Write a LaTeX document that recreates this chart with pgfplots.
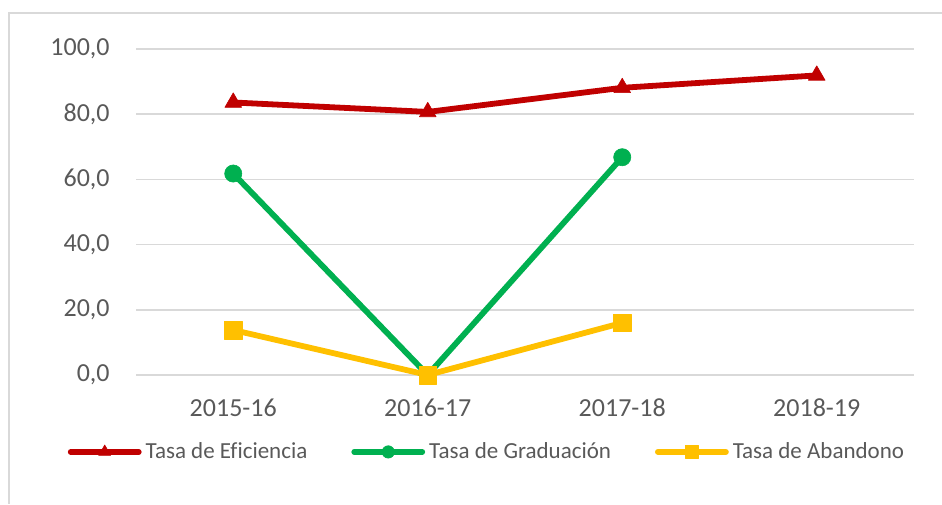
\documentclass[border=0pt]{standalone}
\usepackage{fontspec}
\setmainfont{Carlito}[Ligatures=NoCommon]
\usepackage{pgfplots}
\pgfplotsset{compat=1.18}
\definecolor{cred}{HTML}{C00000}
\definecolor{cgreen}{HTML}{00B050}
\definecolor{cyellow}{HTML}{FFC000}
\definecolor{cgrid}{HTML}{D9D9D9}
\definecolor{ctext}{HTML}{595959}
\begin{document}
\begin{tikzpicture}[x=0.5pt,y=0.5pt]
\useasboundingbox (0,0) rectangle (942,504);
\draw[cgrid, line width=0.8pt] (8,491) -- (942,491);
\draw[cgrid, line width=0.8pt] (9,491) -- (9,0);
\begin{axis}[
  at={(68pt,64.5pt)}, anchor=south west,
  scale only axis, width=389pt, height=163pt,
  xmin=-0.5, xmax=3.5, ymin=0, ymax=100,
  clip=false,
  axis line style={draw=none},
  ymajorgrids, grid style={cgrid, line width=0.8pt},
  major tick length=0pt,
  xtick={0,1,2,3},
  xticklabels={2015-16,2016-17,2017-18,2018-19},
  ytick={0,20,40,60,80,100},
  tick label style={font=\fontsize{13}{15}\selectfont, text=ctext},
  yticklabel style={inner sep=0pt, anchor=east, xshift=-13pt},
  xticklabel style={inner sep=0pt, anchor=center, yshift=-16.5pt},
  /pgf/number format/.cd, fixed, fixed zerofill, precision=1, use comma, assume math mode=true,
  /pgfplots/.cd,
  legend columns=3,
  legend style={at={(0.4524,-0.236)}, anchor=center, draw=none, fill=none,
    font=\fontsize{11.5}{14}\selectfont, text=ctext,
    /tikz/every even column/.append style={column sep=20pt},
    nodes={inner sep=2pt}},
  legend image code/.code={\draw[mark repeat=2,mark phase=2,#1, every mark/.append style={scale=0.72}] plot coordinates {(0pt,0pt) (17pt,0pt) (34pt,0pt)};},
  every axis plot/.append style={line width=2.9pt, line join=round, line cap=round},
]
\addplot[cred, mark=triangle*, mark size=4.8pt, mark options={line width=0.3pt}] coordinates {(0,83.6) (1,80.7) (2,88.1) (3,91.9)};
\addlegendentry{Tasa de Eficiencia}
\addplot[cgreen, mark=*, mark size=4.3pt, mark options={line width=0.3pt}] coordinates {(0,61.8) (1,0) (2,66.8)};
\addlegendentry{Tasa de Graduación}
\addplot[cyellow, mark=square*, mark size=4.4pt, mark options={line width=0.3pt}] coordinates {(0,13.8) (1,0) (2,16.0)};
\addlegendentry{Tasa de Abandono}
\end{axis}
\end{tikzpicture}
\end{document}
